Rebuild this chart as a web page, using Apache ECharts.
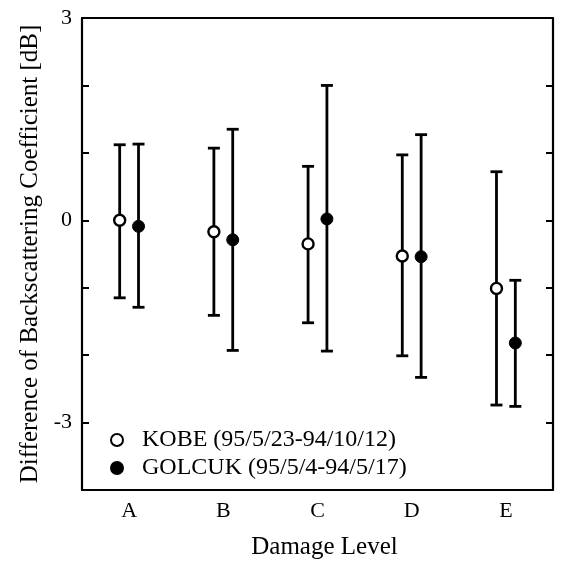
<!DOCTYPE html>
<html>
<head>
<meta charset="utf-8">
<script src="https://cdn.jsdelivr.net/npm/echarts@6/dist/echarts.min.js"></script>
<style>html,body{margin:0;padding:0;background:#fff}#c{width:561px;height:565px}</style>
</head>
<body>
<div id="c"></div>
<script>
const categories = ['A', 'B', 'C', 'D', 'E'];
const yTickLabels = ['3', '0', '-3'];
const kobeName = 'KOBE (95/5/23-94/10/12)';
const golcukName = 'GOLCUK (95/5/4-94/5/17)';
const kobeMean = [0.0, -0.17, -0.35, -0.53, -1.01];
const kobeLow = [-1.15, -1.41, -1.52, -2.01, -2.74];
const kobeHigh = [1.12, 1.07, 0.80, 0.97, 0.72];
const golcukMean = [-0.09, -0.29, 0.02, -0.54, -1.82];
const golcukLow = [-1.29, -1.93, -1.94, -2.33, -2.76];
const golcukHigh = [1.13, 1.35, 2.00, 1.27, -0.89];

const OFFSET = 0.1;
const FONT = 'Liberation Serif';

function pts(mean, off) { return mean.map((v, i) => [i + off, v]); }
function bars(low, high, off) { return low.map((v, i) => [i + off, v, high[i]]); }

function renderErr(params, api) {
  const x = api.value(0);
  const lo = api.coord([x, api.value(1)]);
  const hi = api.coord([x, api.value(2)]);
  const hw = 6;
  const st = { stroke: '#000', lineWidth: 2.8 };
  return {
    type: 'group',
    children: [
      { type: 'line', shape: { x1: lo[0], y1: lo[1], x2: hi[0], y2: hi[1] }, style: st },
      { type: 'line', shape: { x1: lo[0] - hw, y1: lo[1], x2: lo[0] + hw, y2: lo[1] }, style: st },
      { type: 'line', shape: { x1: hi[0] - hw, y1: hi[1], x2: hi[0] + hw, y2: hi[1] }, style: st }
    ]
  };
}

const axisLineStyle = { color: '#000', width: 2.2 };
const tickStyle = { color: '#000', width: 2 };

const chart = echarts.init(document.getElementById('c'));
chart.setOption({
  animation: false,
  backgroundColor: '#fff',
  textStyle: { fontFamily: FONT, color: '#000' },
  grid: { left: 82, right: 8, top: 18, bottom: 68, containLabel: false },
  xAxis: [
    {
      type: 'category', data: categories, position: 'bottom', boundaryGap: true,
      name: 'Damage Level', nameLocation: 'middle', nameGap: 45,
      nameTextStyle: { fontFamily: FONT, fontSize: 25, color: '#000', padding: [0, 0, 0, 14] },
      axisLine: { onZero: false, lineStyle: axisLineStyle },
      axisTick: { alignWithLabel: true, inside: true, length: 7, lineStyle: tickStyle },
      axisLabel: { fontFamily: FONT, fontSize: 22, color: '#000', margin: 10 },
      splitLine: { show: false }
    },
    {
      type: 'category', data: categories, position: 'top', boundaryGap: true,
      axisLine: { onZero: false, lineStyle: axisLineStyle },
      axisTick: { alignWithLabel: true, inside: true, length: 7, lineStyle: tickStyle },
      axisLabel: { show: false }, splitLine: { show: false }
    },
    {
      type: 'value', min: -0.5, max: 4.5, show: false
    }
  ],
  yAxis: [
    {
      type: 'value', min: -4, max: 3, interval: 1, position: 'left',
      name: 'Difference of Backscattering Coefficient [dB]', nameLocation: 'middle', nameGap: 33,
      nameTextStyle: { fontFamily: FONT, fontSize: 25, color: '#000' },
      axisLine: { show: true, onZero: false, lineStyle: axisLineStyle },
      axisTick: { show: true, inside: true, length: 7, lineStyle: tickStyle },
      axisLabel: { fontFamily: FONT, fontSize: 22, color: '#000', margin: 10,
        formatter: v => yTickLabels.includes(String(v)) ? String(v) : '' },
      splitLine: { show: false }
    },
    {
      type: 'value', min: -4, max: 3, interval: 1, position: 'right',
      axisLine: { show: true, onZero: false, lineStyle: axisLineStyle },
      axisTick: { show: true, inside: true, length: 7, lineStyle: tickStyle },
      axisLabel: { show: false }, splitLine: { show: false }
    }
  ],
  legend: {
    orient: 'vertical', left: 105, top: 423, itemGap: 4,
    itemWidth: 12, itemHeight: 12,
    textStyle: { fontFamily: FONT, fontSize: 24, color: '#000', padding: [0, 0, 0, 14] },
    data: [kobeName, golcukName]
  },
  series: [
    { type: 'custom', xAxisIndex: 2, yAxisIndex: 0, renderItem: renderErr, data: bars(kobeLow, kobeHigh, -OFFSET), z: 2 },
    { type: 'custom', xAxisIndex: 2, yAxisIndex: 0, renderItem: renderErr, data: bars(golcukLow, golcukHigh, OFFSET), z: 2 },
    { name: kobeName, type: 'scatter', xAxisIndex: 2, yAxisIndex: 0, symbol: 'circle', symbolSize: 11,
      itemStyle: { color: '#fff', borderColor: '#000', borderWidth: 2.4, opacity: 1 },
      data: pts(kobeMean, -OFFSET), z: 5 },
    { name: golcukName, type: 'scatter', xAxisIndex: 2, yAxisIndex: 0, symbol: 'circle', symbolSize: 12,
      itemStyle: { color: '#000', borderColor: '#000', borderWidth: 1, opacity: 1 },
      data: pts(golcukMean, OFFSET), z: 5 }
  ]
});
</script>
</body>
</html>
